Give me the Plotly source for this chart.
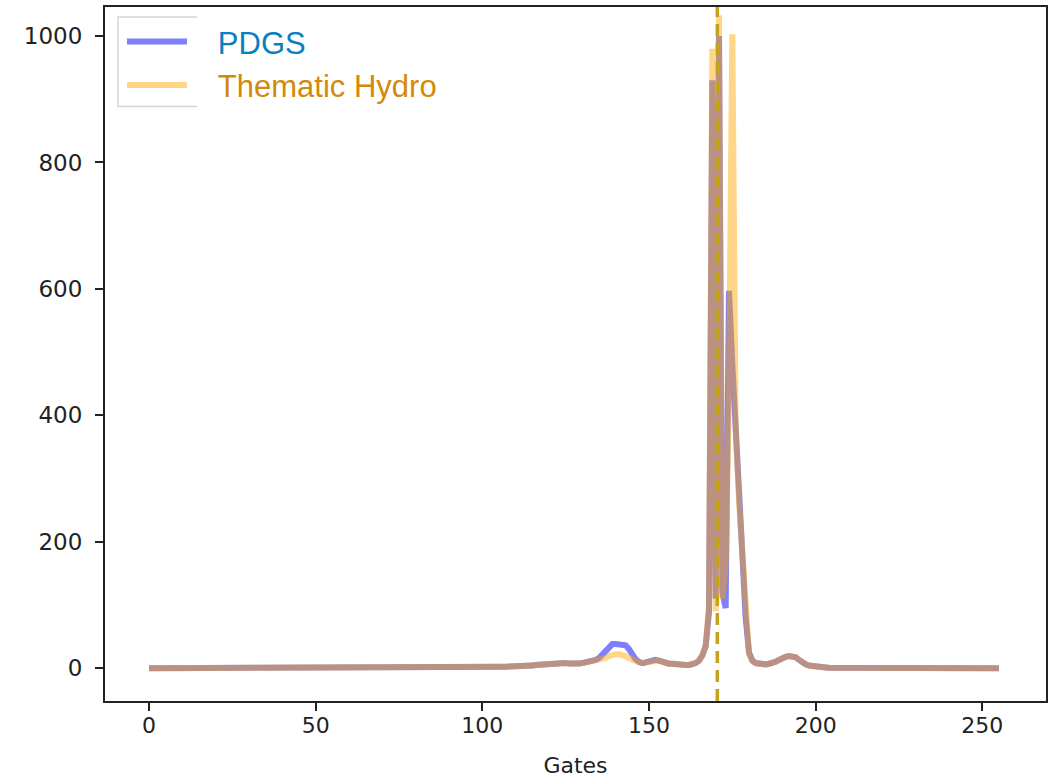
import plotly.graph_objects as go

# ---------------- data ----------------
gates = list(range(256))

pdgs = [
    0, 0, 0, 0, 0, 0, 0, 0, 0, 0,            # 0-9
    0, 0, 0, 0, 0, 0, 0, 0, 0, 0,            # 10-19
    0, 0, 0, 0, 0, 0, 0, 0, 0, 0,            # 20-29
    0, 0, 0, 0, 0, 0, 0, 0, 0, 0,            # 30-39
    0, 0, 0, 0, 0, 0, 0, 0, 0, 0,            # 40-49
    0, 0, 0, 0, 0, 0, 0, 0, 0, 0,            # 50-59
    0, 0, 0, 0, 0, 0, 0, 0, 0, 0,            # 60-69
    0, 0, 0, 0, 0, 0, 0, 0, 0, 0,            # 70-79
    0, 0, 0, 0, 0, 0, 0, 0, 0, 0,            # 80-89
    0, 0, 0, 0, 0.5, 0.5, 0.5, 0.5, 1, 1,    # 90-99
    1, 1, 1, 1.5, 1.5, 1.5, 2, 2, 2.5, 2.5,  # 100-109
    3, 3, 3.5, 3.5, 4, 4, 5, 5.5, 6, 5.5,    # 110-119
    5, 5.5, 6.5, 7.5, 8, 8, 7.5, 7, 7, 7.5,  # 120-129
    8, 9, 10, 11, 13, 16, 22, 28, 34, 38,    # 130-139
    38, 38, 38, 36, 30, 21, 14, 10, 8, 9,    # 140-149
    11, 12, 13, 12, 10, 8, 7, 7, 6, 5,       # 150-159
    5, 5, 5, 6, 8, 12, 20, 35, 90, 930,      # 160-169
    110, 1000, 120, 95, 597, 480, 370, 270, 190, 80,  # 170-179
    25, 12, 8, 7, 6, 6, 7, 8, 10, 13,        # 180-189
    16, 18, 19, 19, 17, 13, 9, 6, 4, 3,      # 190-199
    2, 1.5, 1, 1, 0.5, 0.5, 0.5, 0.5, 0, 0,  # 200-209
    0, 0, 0, 0, 0, 0, 0, 0, 0, 0,            # 210-219
    0, 0, 0, 0, 0, 0, 0, 0, 0, 0,            # 220-229
    0, 0, 0, 0, 0, 0, 0, 0, 0, 0,            # 230-239
    0, 0, 0, 0, 0, 0, 0, 0, 0, 0,            # 240-249
    0, 0, 0, 0, 0, 0,                        # 250-255
]

thematic_hydro = [
    0, 0, 0, 0, 0, 0, 0, 0, 0, 0,            # 0-9
    0, 0, 0, 0, 0, 0, 0, 0, 0, 0,            # 10-19
    0, 0, 0, 0, 0, 0, 0, 0, 0, 0,            # 20-29
    0, 0, 0, 0, 0, 0, 0, 0, 0, 0,            # 30-39
    0, 0, 0, 0, 0, 0, 0, 0, 0, 0,            # 40-49
    0, 0, 0, 0, 0, 0, 0, 0, 0, 0,            # 50-59
    0, 0, 0, 0, 0, 0, 0, 0, 0, 0,            # 60-69
    0, 0, 0, 0, 0, 0, 0, 0, 0, 0,            # 70-79
    0, 0, 0, 0, 0, 0, 0, 0, 0, 0,            # 80-89
    0, 0, 0, 0, 0.5, 0.5, 0.5, 0.5, 1, 1,    # 90-99
    1, 1, 1, 1.5, 1.5, 1.5, 2, 2, 2.5, 2.5,  # 100-109
    3, 3, 3.5, 3.5, 4, 4, 5, 5.5, 6, 5.5,    # 110-119
    5, 5.5, 6.5, 7.5, 8, 8, 7.5, 7, 7, 7.5,  # 120-129
    8, 9, 10, 10, 11, 12, 14, 16, 19, 21,    # 130-139
    22, 22, 21, 19, 16, 13, 11, 9, 8, 9,     # 140-149
    11, 12, 13, 12, 10, 8, 7, 7, 6, 5,       # 150-159
    5, 5, 5, 6, 8, 12, 20, 35, 100, 980,     # 160-169
    90, 1033, 110, 160, 450, 1003, 380, 265, 185, 75,  # 170-179
    22, 12, 8, 7, 6, 6, 7, 8, 10, 13,        # 180-189
    16, 18, 19, 19, 17, 13, 9, 6, 4, 3,      # 190-199
    2, 1.5, 1, 1, 0.5, 0.5, 0.5, 0.5, 0, 0,  # 200-209
    0, 0, 0, 0, 0, 0, 0, 0, 0, 0,            # 210-219
    0, 0, 0, 0, 0, 0, 0, 0, 0, 0,            # 220-229
    0, 0, 0, 0, 0, 0, 0, 0, 0, 0,            # 230-239
    0, 0, 0, 0, 0, 0, 0, 0, 0, 0,            # 240-249
    0, 0, 0, 0, 0, 0,                        # 250-255
]

leading_edge_gate = 170.5

x_ticks = [0, 50, 100, 150, 200, 250]
y_ticks = [0, 200, 400, 600, 800, 1000]
series_names = ["PDGS", "Thematic Hydro"]
name_colors = ["#0a7fc0", "#d4890a"]

# ---------------- figure ----------------
W, H = 1054, 779
L, R, T, B = 105, 8, 5, 76
pw, ph = W - L - R, H - T - B

def px_x(p):
    return (p - L) / pw

def px_y(p):
    return (H - B - p) / ph

fig = go.Figure()

pad = "\u00a0\u00a0\u00a0"
fig.add_trace(go.Scatter(
    x=gates, y=pdgs, mode="lines",
    name=f"{pad}<span style='color:{name_colors[0]}'>{series_names[0]}</span>",
    line=dict(color="rgba(0,0,245,0.5)", width=6),
))
fig.add_trace(go.Scatter(
    x=gates, y=thematic_hydro, mode="lines",
    name=f"{pad}<span style='color:{name_colors[1]}'>{series_names[1]}</span>",
    line=dict(color="rgba(255,165,0,0.47)", width=6),
))

fig.add_vline(x=leading_edge_gate, line=dict(color="#c4a21c", width=3.5, dash="12px,7px"))

# legend frame (partially hidden, as in the reference)
fx0, fx1 = px_x(118), px_x(197)
fy0, fy1 = px_y(105), px_y(15)
fig.add_shape(type="path", xref="paper", yref="paper",
              path=f"M {fx1},{fy1} L {fx0},{fy1} L {fx0},{fy0} L {fx1},{fy0}",
              line=dict(color="rgba(200,200,210,0.8)", width=1.5))

fig.update_layout(
    width=W, height=H, autosize=False,
    margin=dict(l=L, r=R, t=T, b=B),
    paper_bgcolor="white", plot_bgcolor="white",
    showlegend=True,
    legend=dict(
        x=px_x(122), y=px_y(13), xanchor="left", yanchor="top",
        bgcolor="rgba(0,0,0,0)", borderwidth=0,
        font=dict(family="Liberation Sans, Arial, sans-serif", size=31),
        itemwidth=60, tracegroupgap=0,
    ),
    xaxis=dict(
        range=[-13.2, 269.1], tickvals=x_ticks, ticktext=[str(v) for v in x_ticks],
        showgrid=False, zeroline=False, showline=True, linecolor="#222", linewidth=2,
        mirror=True, ticks="outside", ticklen=8, tickwidth=1.5, tickcolor="#222",
        tickfont=dict(family="DejaVu Sans", size=22, color="#222"),
        ticklabelstandoff=-4,
        title=dict(text="Gates", font=dict(family="DejaVu Sans", size=22, color="#222"), standoff=20),
    ),
    yaxis=dict(
        range=[-52, 1046], tickvals=y_ticks, ticktext=[str(v) for v in y_ticks],
        showgrid=False, zeroline=False, showline=True, linecolor="#222", linewidth=2,
        mirror=True, ticks="outside", ticklen=8, tickwidth=1.5, tickcolor="#222",
        tickfont=dict(family="DejaVu Sans", size=23, color="#222"),
        ticklabelstandoff=8,
    ),
)

fig.write_html("out.html")
